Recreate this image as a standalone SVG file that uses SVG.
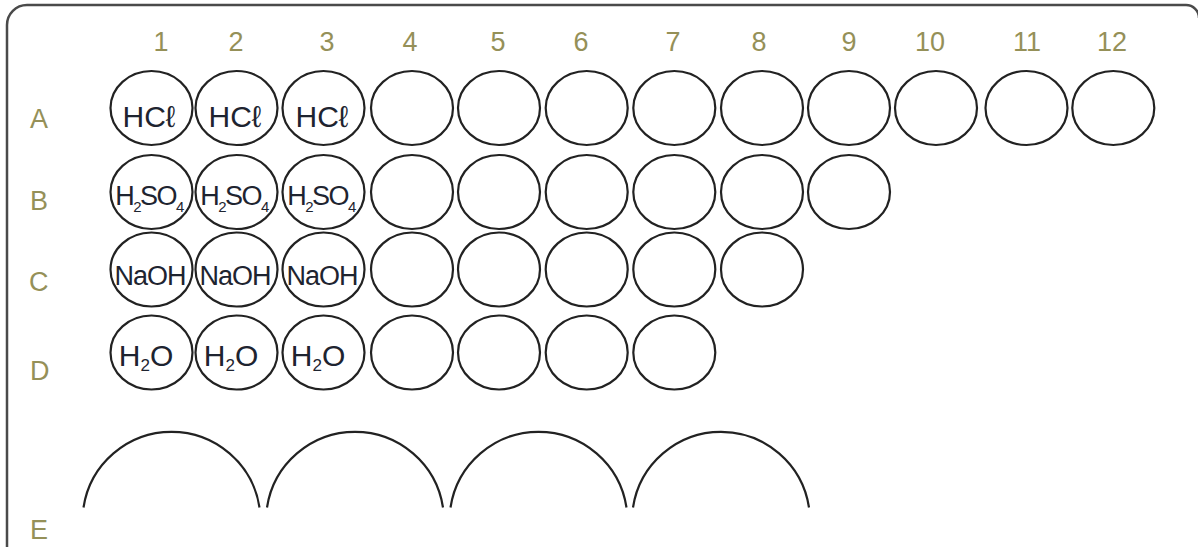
<svg xmlns="http://www.w3.org/2000/svg" width="1198" height="547" viewBox="0 0 1198 547">
<style>
.frame{fill:none;stroke:#4a4a4a;stroke-width:2.5}
.well{fill:#fff;stroke:#222;stroke-width:2.2}
.big{fill:none;stroke:#222;stroke-width:2.2}
.lbl{font-family:"Liberation Sans","DejaVu Sans",sans-serif;font-size:27px;fill:#959058}
.col{text-anchor:middle}
.chem{font-family:"Liberation Sans","DejaVu Sans",sans-serif;fill:#1e2430;text-anchor:middle}
</style>
<rect width="1198" height="547" fill="#fff"/>
<path id="plate" class="frame" d="M7,547 V25 A20,20 0 0 1 27,5 H1186 A13,13 0 0 1 1199,18"/>
<g id="column-labels">
<text class="lbl col" x="161" y="51">1</text>
<text class="lbl col" x="236" y="51">2</text>
<text class="lbl col" x="327" y="51">3</text>
<text class="lbl col" x="410" y="51">4</text>
<text class="lbl col" x="498" y="51">5</text>
<text class="lbl col" x="581" y="51">6</text>
<text class="lbl col" x="673" y="51">7</text>
<text class="lbl col" x="759" y="51">8</text>
<text class="lbl col" x="849" y="51">9</text>
<text class="lbl col" x="930" y="51">10</text>
<text class="lbl col" x="1027" y="51">11</text>
<text class="lbl col" x="1112" y="51">12</text>
</g>
<g id="row-labels">
<text class="lbl" x="30" y="128">A</text>
<text class="lbl" x="30" y="210">B</text>
<text class="lbl" x="29" y="291">C</text>
<text class="lbl" x="30" y="380">D</text>
<text class="lbl" x="30" y="539">E</text>
</g>
<g id="row-A">
<g id="A1"><ellipse class="well" cx="151.5" cy="108" rx="41" ry="37"/><text class="chem" x="149" y="127" font-size="30">HCℓ</text></g>
<g id="A2"><ellipse class="well" cx="236.5" cy="108" rx="41" ry="37"/><text class="chem" x="235" y="127" font-size="30">HCℓ</text></g>
<g id="A3"><ellipse class="well" cx="323.5" cy="108" rx="41" ry="37"/><text class="chem" x="322" y="127" font-size="30">HCℓ</text></g>
<g id="A4"><ellipse class="well" cx="412" cy="108" rx="41" ry="37"/></g>
<g id="A5"><ellipse class="well" cx="499" cy="108" rx="41" ry="37"/></g>
<g id="A6"><ellipse class="well" cx="586.7" cy="108" rx="41" ry="37"/></g>
<g id="A7"><ellipse class="well" cx="674.3" cy="108" rx="41" ry="37"/></g>
<g id="A8"><ellipse class="well" cx="762" cy="108" rx="41" ry="37"/></g>
<g id="A9"><ellipse class="well" cx="849" cy="108" rx="41" ry="37"/></g>
<g id="A10"><ellipse class="well" cx="936" cy="108" rx="41" ry="37"/></g>
<g id="A11"><ellipse class="well" cx="1026.5" cy="108" rx="41" ry="37"/></g>
<g id="A12"><ellipse class="well" cx="1113.3" cy="108" rx="41" ry="37"/></g>
</g>
<g id="row-B">
<g id="B1"><ellipse class="well" cx="151.5" cy="192" rx="41" ry="37"/><text class="chem" x="149" y="205" font-size="27" letter-spacing="-1.5">H<tspan font-size="15" dy="7">2</tspan><tspan dy="-7">SO</tspan><tspan font-size="15" dy="7">4</tspan></text></g>
<g id="B2"><ellipse class="well" cx="236.5" cy="192" rx="41" ry="37"/><text class="chem" x="234" y="205" font-size="27" letter-spacing="-1.5">H<tspan font-size="15" dy="7">2</tspan><tspan dy="-7">SO</tspan><tspan font-size="15" dy="7">4</tspan></text></g>
<g id="B3"><ellipse class="well" cx="323.5" cy="192" rx="41" ry="37"/><text class="chem" x="321" y="205" font-size="27" letter-spacing="-1.5">H<tspan font-size="15" dy="7">2</tspan><tspan dy="-7">SO</tspan><tspan font-size="15" dy="7">4</tspan></text></g>
<g id="B4"><ellipse class="well" cx="412" cy="192" rx="41" ry="37"/></g>
<g id="B5"><ellipse class="well" cx="499" cy="192" rx="41" ry="37"/></g>
<g id="B6"><ellipse class="well" cx="586.7" cy="192" rx="41" ry="37"/></g>
<g id="B7"><ellipse class="well" cx="674.3" cy="192" rx="41" ry="37"/></g>
<g id="B8"><ellipse class="well" cx="762" cy="192" rx="41" ry="37"/></g>
<g id="B9"><ellipse class="well" cx="849" cy="192" rx="41" ry="37"/></g>
</g>
<g id="row-C">
<g id="C1"><ellipse class="well" cx="151.5" cy="269.5" rx="41" ry="37"/><text class="chem" x="150" y="285" font-size="27" letter-spacing="-1">NaOH</text></g>
<g id="C2"><ellipse class="well" cx="236.5" cy="269.5" rx="41" ry="37"/><text class="chem" x="235" y="285" font-size="27" letter-spacing="-1">NaOH</text></g>
<g id="C3"><ellipse class="well" cx="323.5" cy="269.5" rx="41" ry="37"/><text class="chem" x="322" y="285" font-size="27" letter-spacing="-1">NaOH</text></g>
<g id="C4"><ellipse class="well" cx="412" cy="269.5" rx="41" ry="37"/></g>
<g id="C5"><ellipse class="well" cx="499" cy="269.5" rx="41" ry="37"/></g>
<g id="C6"><ellipse class="well" cx="586.7" cy="269.5" rx="41" ry="37"/></g>
<g id="C7"><ellipse class="well" cx="674.3" cy="269.5" rx="41" ry="37"/></g>
<g id="C8"><ellipse class="well" cx="762" cy="269.5" rx="41" ry="37"/></g>
</g>
<g id="row-D">
<g id="D1"><ellipse class="well" cx="151.5" cy="352.5" rx="41" ry="37"/><text class="chem" x="146" y="366" font-size="30">H<tspan font-size="17" dy="5">2</tspan><tspan dy="-5">O</tspan></text></g>
<g id="D2"><ellipse class="well" cx="236.5" cy="352.5" rx="41" ry="37"/><text class="chem" x="231" y="366" font-size="30">H<tspan font-size="17" dy="5">2</tspan><tspan dy="-5">O</tspan></text></g>
<g id="D3"><ellipse class="well" cx="323.5" cy="352.5" rx="41" ry="37"/><text class="chem" x="318" y="366" font-size="30">H<tspan font-size="17" dy="5">2</tspan><tspan dy="-5">O</tspan></text></g>
<g id="D4"><ellipse class="well" cx="412" cy="352.5" rx="41" ry="37"/></g>
<g id="D5"><ellipse class="well" cx="499" cy="352.5" rx="41" ry="37"/></g>
<g id="D6"><ellipse class="well" cx="586.7" cy="352.5" rx="41" ry="37"/></g>
<g id="D7"><ellipse class="well" cx="674.3" cy="352.5" rx="41" ry="37"/></g>
</g>
<g id="row-E">
<g id="E1"><path class="big" d="M83.5,507.5 A89,89 0 0 1 259.5,507.5"/></g>
<g id="E2"><path class="big" d="M267,507.5 A89,89 0 0 1 443,507.5"/></g>
<g id="E3"><path class="big" d="M450.5,507.5 A89,89 0 0 1 626.5,507.5"/></g>
<g id="E4"><path class="big" d="M633,507.5 A89,89 0 0 1 809,507.5"/></g>
</g>
<g id="connectors"/>
</svg>
